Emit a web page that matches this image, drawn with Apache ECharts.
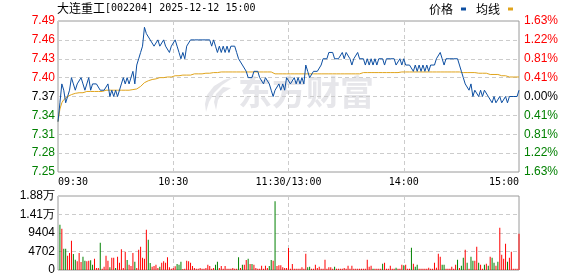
<!DOCTYPE html>
<html><head><meta charset="utf-8">
<script src="https://cdn.jsdelivr.net/npm/echarts@6/dist/echarts.min.js"></script>
<style>html,body{margin:0;padding:0;background:#fff}#c{width:578px;height:276px}</style>
</head><body><div id="c"></div>
<script>
const stockName = '大连重工';
const stockCode = '002204';
const stamp = '2025-12-12 15:00';
const preClose = 7.37;
const xTickLabels = ['09:30', '10:30', '11:30/13:00', '14:00', '15:00'];
const legendNames = ['价格', '均线'];
const watermark = '东方财富';

const price = [
7.33,7.36,7.39,7.38,7.36,7.37,7.38,7.40,7.39,7.38,
7.39,7.39,7.40,7.39,7.38,7.39,7.40,7.38,7.39,7.39,
7.39,7.39,7.38,7.38,7.38,7.38,7.39,7.37,7.38,7.37,
7.38,7.37,7.37,7.39,7.40,7.39,7.40,7.39,7.40,7.41,
7.39,7.42,7.43,7.44,7.45,7.48,7.47,7.47,7.46,7.46,
7.45,7.45,7.46,7.45,7.45,7.46,7.45,7.45,7.44,7.45,
7.45,7.46,7.45,7.44,7.43,7.44,7.43,7.45,7.45,7.46,
7.46,7.46,7.46,7.46,7.46,7.46,7.46,7.46,7.46,7.46,
7.45,7.46,7.45,7.44,7.45,7.44,7.45,7.44,7.45,7.44,
7.45,7.45,7.45,7.44,7.43,7.43,7.42,7.42,7.41,7.40,
7.40,7.40,7.41,7.41,7.41,7.40,7.40,7.39,7.40,7.40,
7.39,7.38,7.37,7.38,7.38,7.39,7.38,7.39,7.38,7.40,
7.40,7.39,7.39,7.40,7.39,7.40,7.39,7.40,7.39,7.42,
7.41,7.40,7.40,7.41,7.41,7.41,7.41,7.42,7.43,7.43,
7.43,7.44,7.44,7.44,7.43,7.43,7.43,7.43,7.44,7.43,
7.44,7.44,7.43,7.42,7.43,7.43,7.44,7.43,7.43,7.43,
7.42,7.43,7.42,7.43,7.42,7.43,7.42,7.43,7.43,7.43,
7.42,7.43,7.43,7.43,7.43,7.43,7.42,7.42,7.43,7.42,
7.43,7.42,7.42,7.42,7.42,7.41,7.42,7.41,7.42,7.41,
7.42,7.41,7.42,7.41,7.42,7.42,7.42,7.43,7.43,7.44,
7.43,7.42,7.43,7.43,7.43,7.43,7.43,7.43,7.43,7.42,
7.41,7.40,7.39,7.39,7.38,7.39,7.37,7.38,7.38,7.37,
7.38,7.37,7.38,7.38,7.37,7.37,7.36,7.37,7.36,7.36,
7.37,7.36,7.36,7.37,7.36,7.37,7.37,7.37,7.37,7.37,
7.38
];

const avgPrice = [
7.330,7.350,7.360,7.365,7.367,7.370,7.372,7.373,7.374,7.375,
7.376,7.376,7.376,7.376,7.376,7.378,7.378,7.378,7.378,7.378,
7.378,7.378,7.378,7.378,7.378,7.380,7.380,7.380,7.380,7.380,
7.380,7.380,7.380,7.380,7.380,7.380,7.380,7.380,7.381,7.381,
7.381,7.382,7.384,7.386,7.389,7.392,7.394,7.395,7.396,7.397,
7.398,7.398,7.398,7.400,7.400,7.400,7.401,7.401,7.401,7.401,
7.403,7.403,7.403,7.403,7.403,7.404,7.404,7.404,7.404,7.404,
7.404,7.406,7.406,7.406,7.406,7.406,7.407,7.407,7.407,7.407,
7.407,7.408,7.408,7.408,7.408,7.409,7.409,7.409,7.409,7.409,
7.409,7.409,7.409,7.409,7.409,7.409,7.409,7.409,7.409,7.409,
7.409,7.409,7.409,7.409,7.409,7.409,7.409,7.409,7.409,7.409,
7.409,7.409,7.406,7.406,7.406,7.406,7.406,7.406,7.406,7.406,
7.406,7.406,7.406,7.406,7.406,7.406,7.406,7.406,7.406,7.406,
7.406,7.406,7.406,7.406,7.406,7.406,7.406,7.406,7.406,7.406,
7.406,7.406,7.406,7.406,7.406,7.406,7.406,7.406,7.406,7.406,
7.406,7.406,7.406,7.406,7.406,7.406,7.406,7.406,7.408,7.408,
7.408,7.408,7.408,7.408,7.408,7.408,7.408,7.408,7.408,7.408,
7.408,7.408,7.408,7.408,7.408,7.408,7.408,7.408,7.408,7.409,
7.409,7.409,7.409,7.409,7.409,7.409,7.409,7.409,7.409,7.409,
7.409,7.409,7.409,7.409,7.409,7.409,7.409,7.409,7.409,7.409,
7.409,7.409,7.409,7.409,7.409,7.409,7.409,7.409,7.409,7.409,
7.408,7.408,7.408,7.408,7.408,7.408,7.408,7.408,7.408,7.407,
7.407,7.407,7.407,7.407,7.407,7.405,7.405,7.405,7.405,7.405,
7.405,7.403,7.403,7.403,7.401,7.401,7.401,7.401,7.401,7.401,
7.401
];

const volume = [
0,11520,10500,5420,5420,3640,4320,7450,4070,2630,
2200,4320,2030,3390,2370,2200,2370,2460,1360,2880,
500,500,6950,340,850,3640,2370,680,3140,3140,
500,3390,1860,5250,500,4660,2540,1360,1020,4320,
2120,500,5170,5930,3140,2880,10250,7700,1780,850,
1020,1360,500,850,1860,2200,1860,3220,680,340,
500,930,1530,1360,2120,250,340,2370,2200,1860,
1020,500,340,340,500,340,340,500,1360,1020,
340,500,1360,2120,500,1020,340,1020,340,340,
340,500,340,340,3220,500,1360,1360,2540,2880,
1530,1530,1360,500,340,340,1100,340,1100,500,
1020,2540,2370,17450,1020,1190,1190,680,500,500,
5590,340,1530,340,340,340,340,680,340,4150,
680,850,340,340,1360,500,850,340,340,2630,
340,680,680,340,850,340,340,340,340,500,
340,1100,340,1100,340,340,340,340,340,340,
340,2630,850,1100,340,340,340,340,340,1610,
1860,340,340,1100,340,340,590,340,340,1360,
1190,1360,340,340,5670,1610,850,1360,340,340,
340,340,340,590,340,340,1860,590,4150,3390,
1360,1360,340,340,340,850,340,1360,2630,500,
1100,3140,5170,1860,340,3390,2370,2370,5930,1860,
1360,340,1360,1610,1100,3390,3140,1860,1100,2120,
10760,3900,2880,6690,2120,3140,4660,340,340,340,
9230
];

// minutes whose volume bar is green (price fell)
const volDownIdx = [1,3,4,8,9,13,14,17,18,22,27,30,36,40,47,48,53,62,63,64,82,83,94,96,99,101,
110,111,113,130,131,144,164,169,176,180,184,186,187,200,201,208,210,211,213,215,216,219,222,224,226,227,229,234];

const RED = '#ff0000', GREEN = '#008000', BLACK = '#000000';
const BLUE = '#0d4fa2', GOLD = '#e0a41c';

const minutes = [];
for (let i = 0; i < price.length; i++) {
  let t = i <= 120 ? 9 * 60 + 30 + i : 13 * 60 + (i - 120);
  minutes.push(String(Math.floor(t / 60)).padStart(2, '0') + ':' + String(t % 60).padStart(2, '0'));
}
const downSet = new Set(volDownIdx);
const volData = volume.map((v, i) => ({ value: v, itemStyle: { color: downSet.has(i) ? GREEN : RED } }));

const chart = echarts.init(document.getElementById('c'), null, { renderer: 'canvas' });
const dash = { color: '#cccccc', type: [4, 3], width: 1 };
const priceColor = v => v > preClose + 1e-6 ? RED : (v < preClose - 1e-6 ? GREEN : BLACK);
const monoFont = 'DejaVu Sans Mono';
const cjkFont = 'Noto Sans CJK SC';
const wmColor = '#e6e6ea';

chart.setOption({
  animation: false,
  backgroundColor: '#fff',
  title: {
    left: 57, top: 2, padding: 0,
    text: '{cn|' + stockName + '}{en|[' + stockCode + '] ' + stamp + '}',
    textStyle: {
      rich: {
        cn: { fontFamily: cjkFont, fontSize: 12, color: '#000', fontWeight: 'normal' },
        en: { fontFamily: monoFont, fontSize: 10, color: '#000', fontWeight: 'normal' }
      }
    }
  },
  legend: {
    right: 65, top: 3, padding: 0, itemWidth: 5, itemHeight: 3, itemGap: 10, align: 'right',
    icon: 'rect', data: legendNames,
    textStyle: { fontFamily: cjkFont, fontSize: 12, color: '#000', padding: [0, 3, 0, 0] }
  },
  graphic: [
    {
      type: 'polygon', z: 0, silent: true,
      shape: { points: [[234,77],[224,80],[214,86],[207,95],[205,104],[206,112],[209,102],[214,93],[222,85]] },
      style: { fill: wmColor }
    },
    {
      type: 'polygon', z: 0, silent: true,
      shape: { points: [[231,88],[223,93],[218,100],[216,110],[214,102],[216,94],[223,87]] },
      style: { fill: wmColor }
    },
    {
      type: 'text', left: 238, top: 75, z: 0, silent: true,
      style: { text: watermark, font: 'bold 34px "Noto Sans CJK SC"', fill: wmColor }
    }
  ],
  grid: [
    { left: 58, right: 59, top: 21, height: 151, show: true, borderColor: '#9a9a9a', borderWidth: 1, backgroundColor: 'transparent' },
    { left: 58, right: 59, top: 196, height: 74, show: true, borderColor: '#9a9a9a', borderWidth: 1, backgroundColor: 'transparent' }
  ],
  xAxis: [
    {
      type: 'category', gridIndex: 0, data: minutes, boundaryGap: false,
      axisLine: { show: false }, axisTick: { show: false },
      axisLabel: {
        interval: (i) => i % 60 === 0, margin: 5,
        formatter: (v, i) => xTickLabels[Math.round(i / 60)],
        fontFamily: monoFont, fontSize: 10, color: '#000',
        alignMinLabel: 'left', alignMaxLabel: 'right'
      },
      splitLine: { show: true, interval: (i) => i % 60 === 0 && i > 0 && i < 240, lineStyle: dash }
    },
    {
      type: 'category', gridIndex: 1, data: minutes, boundaryGap: false,
      axisLine: { show: false }, axisTick: { show: false }, axisLabel: { show: false },
      splitLine: { show: true, interval: (i) => i % 60 === 0 && i > 0 && i < 240, lineStyle: dash }
    }
  ],
  yAxis: [
    {
      type: 'value', gridIndex: 0, min: 7.25, max: 7.49, interval: 0.03, scale: true,
      axisLine: { show: false }, axisTick: { show: false },
      axisLabel: { margin: 3, formatter: v => v.toFixed(2), color: v => priceColor(v), fontFamily: 'Liberation Sans', fontSize: 12 },
      splitLine: { show: true, lineStyle: dash }
    },
    {
      type: 'value', gridIndex: 0, position: 'right', min: 7.25, max: 7.49, interval: 0.03, scale: true,
      axisLine: { show: false }, axisTick: { show: false },
      axisLabel: {
        margin: 5, fontFamily: 'Liberation Sans', fontSize: 12, color: v => priceColor(v),
        formatter: v => Math.abs((v - preClose) / preClose * 100).toFixed(2) + '%'
      },
      splitLine: { show: false }
    },
    {
      type: 'value', gridIndex: 1, min: 0, max: 18808, interval: 4702,
      axisLine: { show: false }, axisTick: { show: false },
      axisLabel: {
        margin: 3, fontFamily: 'Liberation Sans', fontSize: 12, color: '#000',
        formatter: v => v >= 10000 ? (v / 10000).toFixed(2) + '万' : String(Math.round(v))
      },
      splitLine: { show: true, lineStyle: dash }
    }
  ],
  series: [
    {
      name: legendNames[0], type: 'line', xAxisIndex: 0, yAxisIndex: 0, data: price,
      symbol: 'none', color: BLUE, lineStyle: { width: 1, color: BLUE }, z: 4
    },
    {
      name: legendNames[1], type: 'line', xAxisIndex: 0, yAxisIndex: 0, data: avgPrice,
      symbol: 'none', color: GOLD, lineStyle: { width: 1, color: GOLD }, z: 3
    },
    {
      name: '成交量', type: 'bar', xAxisIndex: 1, yAxisIndex: 2, data: volData,
      barWidth: 1, z: 3
    }
  ]
});
</script>
</body></html>
